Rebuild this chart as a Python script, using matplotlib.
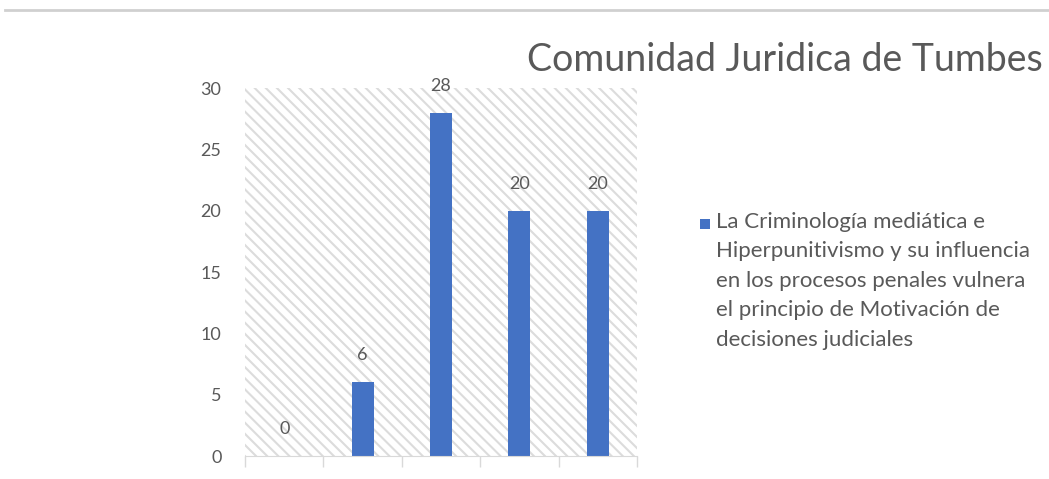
import matplotlib
matplotlib.use('Agg')
import matplotlib.pyplot as plt
import matplotlib.patches as patches
from matplotlib.lines import Line2D

plt.rcParams['font.family'] = ['Lato', 'DejaVu Sans']
plt.rcParams['hatch.linewidth'] = 1.5

categories = ['1', '2', '3', '4', '5']
values = [0, 6, 28, 20, 20]
yticks = [0, 5, 10, 15, 20, 25, 30]
title = 'Comunidad Juridica de Tumbes'
series_label = ('La Criminología mediática e\nHiperpunitivismo y su influencia\n'
                'en los procesos penales vulnera\nel principio de Motivación de\n'
                'decisiones judiciales')

bar_color = '#4472C4'
text_color = '#595959'
grid_color = '#d9d9d9'

fig = plt.figure(figsize=(10.49, 4.79), dpi=100)
ax = fig.add_axes([0.2336, 0.048, 0.3737, 0.768])

# hatched plot area
bg = patches.Rectangle((0, 0), 1, 1, transform=ax.transAxes, facecolor='white',
                       edgecolor='#dcdcdc', hatch='\\\\\\', linewidth=0, zorder=0)
ax.add_patch(bg)

x = list(range(len(categories)))
bars = ax.bar(x, values, width=0.28, color=bar_color, zorder=2)
for xi, v in zip(x, values):
    ax.text(xi, v + 2.2, str(v), ha='center', va='center', fontsize=13, color=text_color)

ax.set_xlim(-0.5, len(categories) - 0.5)
ax.set_ylim(0, 30)
ax.set_yticks(yticks)
ax.set_yticklabels([str(t) for t in yticks], fontsize=13, color=text_color)
ax.tick_params(axis='y', length=0, pad=17)
ax.set_xticks([i - 0.5 for i in range(len(categories) + 1)])
ax.set_xticklabels([])
ax.tick_params(axis='x', length=8, color=grid_color, width=1)
for s in ['top', 'right', 'left']:
    ax.spines[s].set_visible(False)
ax.spines['bottom'].set_color(grid_color)

fig.text(527 / 1049, 1 - 60 / 479, title, ha='left', va='center', fontsize=27,
         color=text_color)

# top separator line
fig.add_artist(Line2D([5 / 1049, 1], [1 - 10 / 479, 1 - 10 / 479], color='#d0d0d0',
                      linewidth=2, transform=fig.transFigure))

# legend drawn by hand so the marker sits on the first line
fig.add_artist(patches.Rectangle((700 / 1049, 1 - 229 / 479), 10 / 1049, 10 / 479,
                                 transform=fig.transFigure, facecolor=bar_color,
                                 edgecolor='none'))
fig.text(716 / 1049, 1 - 212 / 479, series_label, ha='left', va='top', fontsize=16,
         color=text_color, linespacing=1.59)

fig.savefig('out.png', dpi=100)
